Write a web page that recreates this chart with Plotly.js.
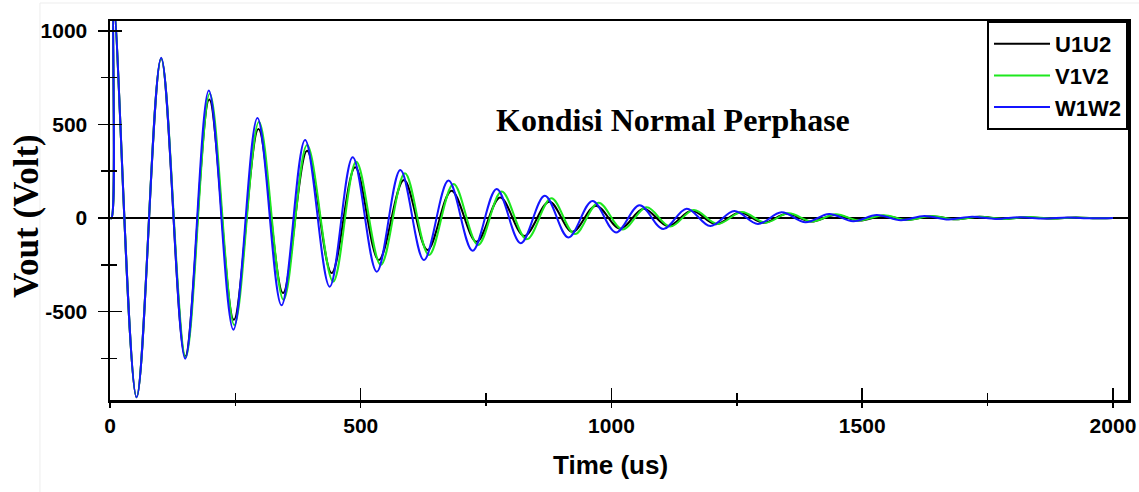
<!DOCTYPE html>
<html>
<head>
<meta charset="utf-8">
<script src="https://cdn.plot.ly/plotly-3.0.1.min.js"></script>
<style>html,body{margin:0;padding:0;background:#fff;}#chart{width:1139px;height:492px;}</style>
</head>
<body>
<div id="chart"></div>
<script>
// Peaks/troughs (time in us, Vout in volt)
const tU1U2 = [0, 3, 8, 53, 102, 150, 198, 247, 296, 345, 393, 442, 489, 536, 586, 633, 681, 731, 778, 826, 876, 922, 969, 1017, 1064, 1113, 1160, 1208, 1256, 1303, 1350, 1398, 1446, 1494, 1542, 1590, 1638, 1686, 1734, 1782, 1830, 1878, 1926, 1974, 2000];
const vU1U2 = [0, 0, 1120, -958, 852, -740, 633, -544, 476, -401, 360, -294, 271, -225, 203, -171, 146, -127, 110, -96, 87, -74, 66, -57, 50, -43, 38, -33, 29, -25, 22, -19, 16, -14, 12, -10, 9, -7, 6, -5, 4, -3, 3, -2, 0];

const tV1V2 = [0, 3, 8, 53, 102, 151, 199, 248, 297, 346, 393, 445, 491, 540, 588, 636, 685, 734, 781, 831, 880, 927, 974, 1022, 1070, 1117, 1164, 1212, 1260, 1307, 1353, 1400, 1447, 1494, 1542, 1590, 1638, 1686, 1734, 1782, 1830, 1878, 1926, 1974, 2000];
const vV1V2 = [0, 0, 1120, -958, 854, -745, 665, -572, 515, -437, 390, -340, 301, -251, 239, -198, 182, -144, 141, -114, 105, -86, 82, -61, 57, -46, 43, -32, 32, -25, 25, -19, 20, -13, 14, -10, 10, -7, 7, -5, 5, -3, 3, -2, 0];

const tW1W2 = [0, 3, 8, 53, 102, 150, 197, 246, 294, 342, 389, 438, 484, 532, 579, 626, 675, 723, 771, 819, 867, 914, 962, 1009, 1056, 1103, 1150, 1197, 1245, 1292, 1339, 1387, 1434, 1482, 1529, 1577, 1624, 1672, 1719, 1767, 1814, 1862, 1909, 1957, 2000];
const vW1W2 = [0, 0, 1120, -958, 856, -752, 681, -597, 535, -467, 417, -367, 325, -287, 257, -225, 200, -175, 155, -135, 119, -104, 91, -77, 68, -59, 50, -43, 37, -32, 30, -23, 21, -18, 16, -12, 11, -8, 7, -5, 4, -3, 3, -2, 0];

const seriesNames = ['U1U2', 'V1V2', 'W1W2'];
const seriesColors = ['#000000', '#1ee81e', '#1414ff'];
const xTickVals = [0, 500, 1000, 1500, 2000];
const xTickText = ['0', '500', '1000', '1500', '2000'];
const yTickVals = [-500, 0, 500, 1000];
const yTickText = ['-500', '0', '500', '1000'];
const xMinorVals = [250, 750, 1250, 1750];
const yMinorVals = [-750, -250, 250, 750];

const sans = 'Liberation Sans, Arial, sans-serif';
const serif = 'Liberation Serif, Times New Roman, serif';

const ts = [tU1U2, tV1V2, tW1W2];
const vs = [vU1U2, vV1V2, vW1W2];
const data = ts.map((t, i) => ({
  x: t, y: vs[i], name: seriesNames[i], type: 'scatter', mode: 'lines',
  line: {color: seriesColors[i], width: 2, shape: 'spline', smoothing: 1},
  hoverinfo: 'skip'
}));
// helper trace so the overlay axes (inner tick halves) are drawn
data.push({x: [null], y: [null], xaxis: 'x2', yaxis: 'y2', showlegend: false, hoverinfo: 'skip', mode: 'lines'});

const XR = [0, 2030], YR = [-973, 1053];
const layout = {
  width: 1139, height: 492,
  margin: {l: 110, r: 11, t: 21, b: 92},
  paper_bgcolor: '#ffffff', plot_bgcolor: '#ffffff',
  showlegend: true,
  legend: {
    x: 1, xanchor: 'right', y: 1, yanchor: 'top',
    bgcolor: '#ffffff', bordercolor: '#000000', borderwidth: 2,
    font: {family: sans, size: 22, color: '#000', weight: 'bold'},
    tracegroupgap: 0, itemwidth: 56
  },
  xaxis: {
    range: XR, tickvals: xTickVals, ticktext: xTickText, ticks: 'outside', ticklen: 5, tickwidth: 1.5, tickcolor: '#000',
    minor: {tickvals: xMinorVals, ticks: 'outside', ticklen: 3, tickwidth: 1.5, tickcolor: '#000'},
    showline: true, linecolor: '#000', linewidth: 2.5, mirror: true, showgrid: false, zeroline: false,
    tickfont: {family: sans, size: 21, color: '#000', weight: 'bold'}
  },
  xaxis2: {
    overlaying: 'x', anchor: 'y2', range: XR, tickvals: xTickVals, ticks: 'inside', ticklen: 12, tickwidth: 1.5, tickcolor: '#000',
    minor: {tickvals: xMinorVals, ticks: 'inside', ticklen: 7, tickwidth: 1.5, tickcolor: '#000'},
    showticklabels: false, showline: false, showgrid: false, zeroline: false
  },
  yaxis: {
    range: YR, tickvals: yTickVals, ticktext: yTickText, ticks: 'outside', ticklen: 10, tickwidth: 1.5, tickcolor: '#000',
    minor: {tickvals: yMinorVals, ticks: 'outside', ticklen: 7, tickwidth: 1.5, tickcolor: '#000'},
    showline: true, linecolor: '#000', linewidth: 2.5, mirror: true, showgrid: false,
    zeroline: true, zerolinecolor: '#000', zerolinewidth: 1.5,
    tickfont: {family: sans, size: 21, color: '#000', weight: 'bold'},
    ticklabelstandoff: 6
  },
  yaxis2: {
    overlaying: 'y', anchor: 'x2', side: 'left', range: YR, tickvals: yTickVals, ticks: 'inside', ticklen: 12, tickwidth: 1.5, tickcolor: '#000',
    minor: {tickvals: yMinorVals, ticks: 'inside', ticklen: 7, tickwidth: 1.5, tickcolor: '#000'},
    showticklabels: false, showline: false, showgrid: false, zeroline: false
  },
  annotations: [
    {
      text: 'Kondisi Normal Perphase', xref: 'paper', yref: 'paper',
      x: 0.553, y: 0.738, xanchor: 'center', yanchor: 'middle', showarrow: false,
      font: {family: serif, size: 32, color: '#000', weight: 'bold'}
    },
    {
      text: 'Vout (Volt)', xref: 'paper', yref: 'paper', textangle: -90,
      x: (26 - 110) / 1018, y: (400 - 216) / 379, xanchor: 'center', yanchor: 'middle', showarrow: false,
      font: {family: serif, size: 35, color: '#000', weight: 'bold'}
    },
    {
      text: 'Time (us)', xref: 'paper', yref: 'paper',
      x: (610.5 - 110) / 1018, y: (400 - 465) / 379, xanchor: 'center', yanchor: 'middle', showarrow: false,
      font: {family: sans, size: 26, color: '#000', weight: 'bold'}
    }
  ],
  shapes: [
    {type: 'line', xref: 'paper', yref: 'paper', x0: -0.0688, x1: -0.0688, y0: -0.25, y1: 1.0475, line: {color: '#ededed', width: 1}},
    {type: 'line', xref: 'paper', yref: 'paper', x0: -0.0688, x1: 1.02, y0: 1.0475, y1: 1.0475, line: {color: '#ededed', width: 1}}
  ]
};

Plotly.newPlot('chart', data, layout, {displayModeBar: false, staticPlot: true});
</script>
</body>
</html>
